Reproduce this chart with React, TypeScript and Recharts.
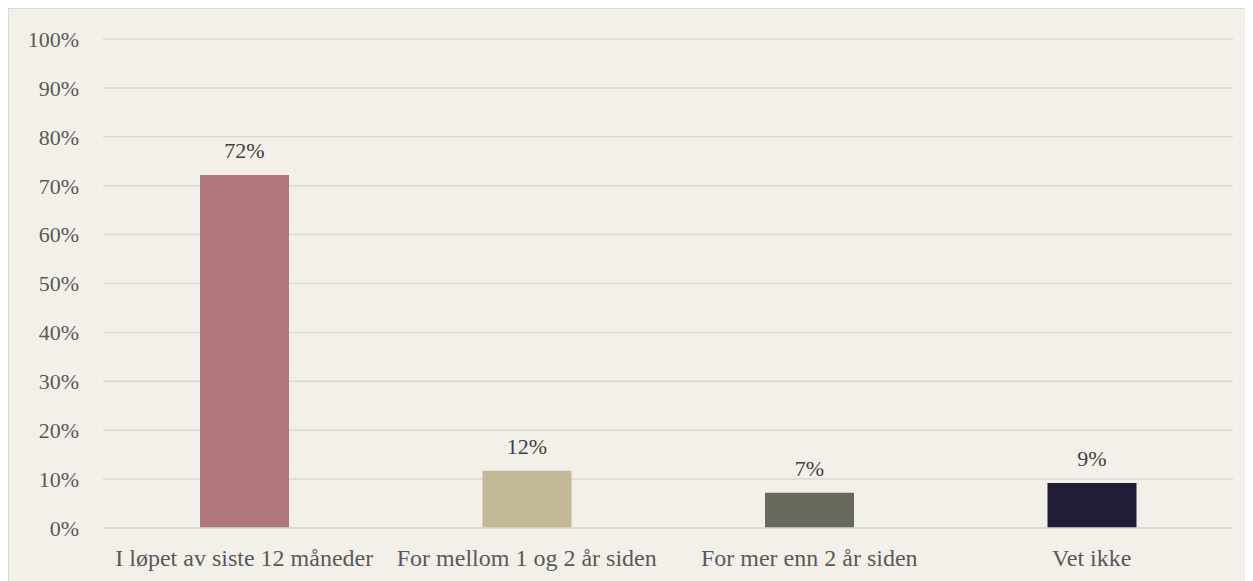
import { Bar, BarChart, CartesianGrid, Cell, LabelList, XAxis, YAxis } from "recharts";

const categories = [
  "I løpet av siste 12 måneder",
  "For mellom 1 og 2 år siden",
  "For mer enn 2 år siden",
  "Vet ikke",
];
const shares = [0.722, 0.117, 0.072, 0.092];
const barColors = ["#B0787C", "#C4B997", "#67695D", "#211D36"];
const yTicks = [0, 0.1, 0.2, 0.3, 0.4, 0.5, 0.6, 0.7, 0.8, 0.9, 1];

const data = categories.map((name, i) => ({ name, value: shares[i] }));

const pct = (v: number) => `${Math.round(v * 100)}%`;
const serif = "Liberation Serif";

export default function App() {
  return (
    <div
      style={{
        width: 1260,
        height: 580,
        border: "1px solid #D9D9D9",
        background: "#F3F0EA",
      }}
    >
      <BarChart
        width={1244}
        height={572}
        data={data}
        margin={{ top: 30, right: 20, left: 0, bottom: 13 }}
        barSize={89}
      >
        <CartesianGrid vertical={false} stroke="#D9D9D9" strokeWidth={1.5} />
        <XAxis
          dataKey="name"
          axisLine={{ stroke: "#D9D9D9", strokeWidth: 1.5 }}
          tickLine={false}
          tickSize={0}
          tickMargin={21}
          height={40}
          interval={0}
          tick={{ fill: "#595959", fontSize: 24, fontFamily: serif }}
        />
        <YAxis
          domain={[0, 1]}
          ticks={yTicks}
          tickFormatter={pct}
          axisLine={false}
          tickLine={false}
          tickSize={0}
          tickMargin={24}
          width={94}
          tick={{ fill: "#595959", fontSize: 22, fontFamily: serif }}
        />
        <Bar dataKey="value" isAnimationActive={false}>
          {data.map((d, i) => (
            <Cell key={d.name} fill={barColors[i]} />
          ))}
          <LabelList
            dataKey="value"
            position="top"
            offset={17}
            formatter={(v: any) => pct(Number(v))}
            style={{ fill: "#404040", fontSize: 22, fontFamily: serif }}
          />
        </Bar>
      </BarChart>
    </div>
  );
}
